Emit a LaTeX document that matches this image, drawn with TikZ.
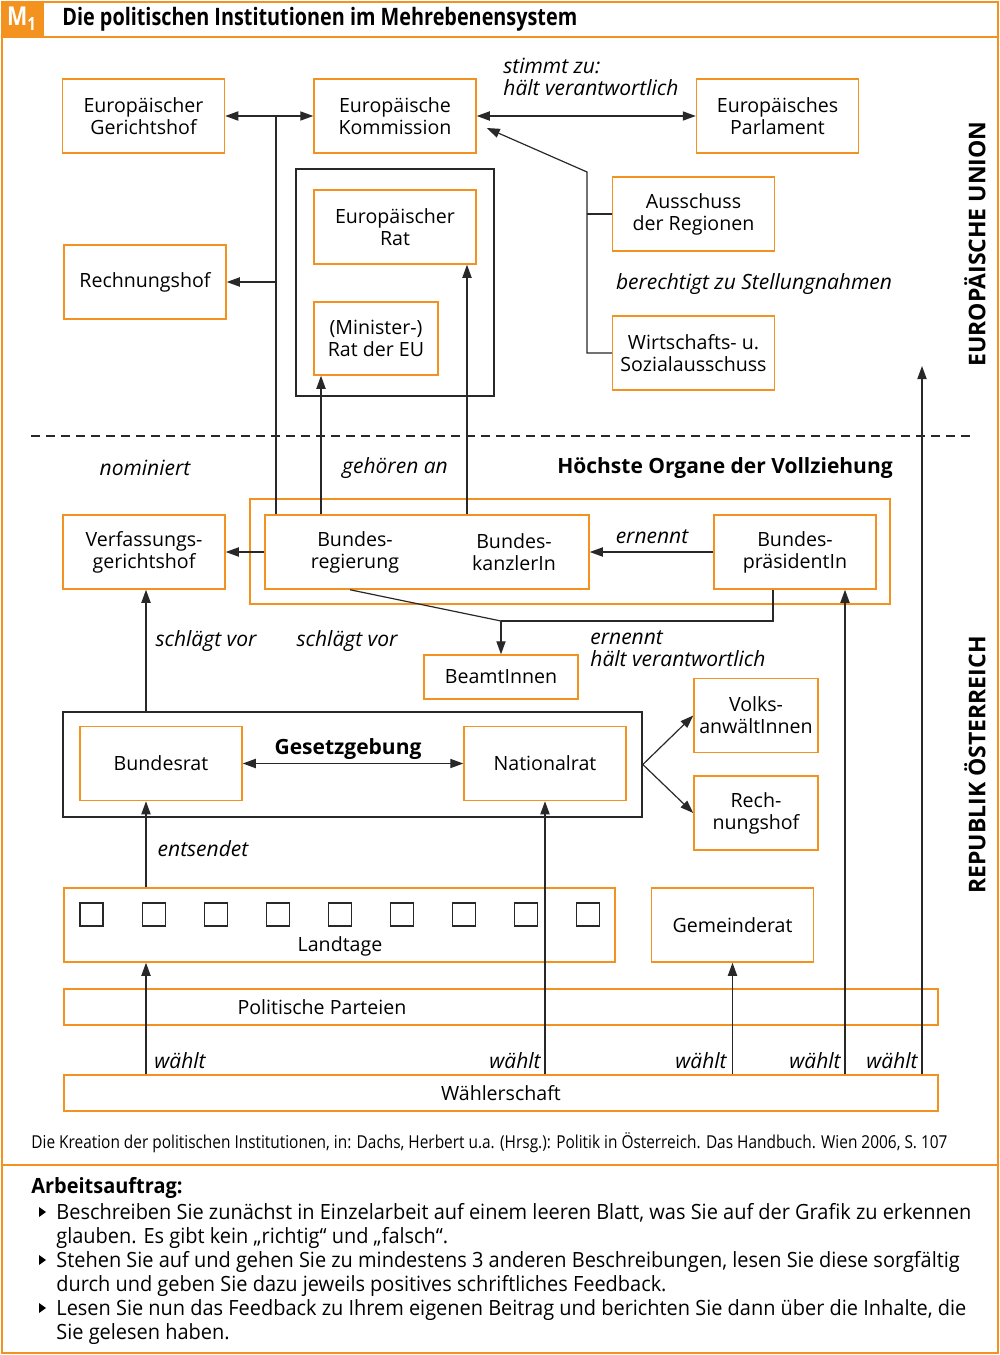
\documentclass[tikz,border=0pt]{standalone}
\usepackage{fontspec}
\setmainfont{Open Sans}
\newfontfamily\condfont[FakeStretch=0.866]{Open Sans}
\newfontfamily\taskfont[FakeStretch=0.95]{Open Sans}
\newfontfamily\titlefont[FakeStretch=0.826]{Open Sans}
\usetikzlibrary{arrows.meta}
\definecolor{og}{RGB}{243,146,30}
\definecolor{dk}{RGB}{40,40,40}
\begin{document}
\begin{tikzpicture}[x=0.5pt,y=-0.5pt,
 ob/.style={draw=og, line width=0.75pt, minimum width=81pt, minimum height=37pt, inner sep=0pt, align=center, font=\fontsize{9.8}{11}\selectfont},
 bb/.style={draw=dk, line width=0.8pt, inner sep=0pt},
 ln/.style={draw=dk, line width=0.6pt},
 arr/.style={ln, -{Triangle[length=6.5pt,width=4.6pt]}},
 arrb/.style={ln, {Triangle[length=6.5pt,width=4.6pt]}-{Triangle[length=6.5pt,width=4.6pt]}},
 lab/.style={font=\fontsize{10.5}{11}\selectfont\itshape, inner sep=0pt},
 txt/.style={font=\fontsize{9.8}{11}\selectfont, inner sep=0pt, align=center},
 sq/.style={draw=dk, line width=0.6pt, minimum size=11.5pt, inner sep=0pt},
 vt/.style={rotate=90, font=\fontsize{11.5}{13}\selectfont\bfseries, inner sep=0pt},
 task/.style={anchor=base west, inner sep=0pt, align=left, font=\taskfont\fontsize{10.5}{12}\selectfont}
]
\useasboundingbox (0,0) rectangle (1000,1355);
% frame
\draw[og, line width=1pt] (2,2) rectangle (998,1353);
\draw[og, line width=1pt] (2,37) -- (998,37);
\draw[og, line width=1pt] (2,1165) -- (998,1165);
\fill[og] (2,2) rectangle (44,37);
\node[text=white, font=\titlefont\bfseries\fontsize{13}{14}\selectfont, inner sep=0pt] (mlogo) at (22,19) {M\textsubscript{1}};
\node[font=\titlefont\bfseries\fontsize{12}{14}\selectfont, anchor=west, inner sep=0pt] (title) at (62,19) {Die politischen Institutionen im Mehrebenensystem};

% EU boxes
\node[ob] (EuGH) at (143.5,116) {Europäischer\\Gerichtshof};
\node[ob] (Komm) at (395,116) {Europäische\\Kommission};
\node[ob] (Parl) at (777.5,116) {Europäisches\\Parlament};
\node[ob] (RH) at (145,282) {Rechnungshof};
\node[bb, minimum width=99pt, minimum height=113.5pt] (RatBox) at (395,282.5) {};
\node[ob] (ERat) at (395,227) {Europäischer\\Rat};
\node[ob, minimum width=62pt, minimum height=36.5pt] (MinRat) at (376,338.5) {(Minister-)\\Rat der EU};
\node[ob] (AdR) at (693.5,214) {Ausschuss\\der Regionen};
\node[ob] (WSA) at (693.5,353) {Wirtschafts- u.\\Sozialausschuss};
\node[lab, anchor=west, align=left] (stimmt) at (503,77) {stimmt zu:\\hält verantwortlich};
\node[lab] (berecht) at (754,284) {berechtigt zu Stellungnahmen};
\node[vt] (euname) at (975,244) {EUROPÄISCHE UNION};

\draw[dk, line width=1pt, dash pattern=on 4.5pt off 3pt] (31,436) -- (970,436);

% Austria
\node[lab] (nomin) at (145,468) {nominiert};
\node[lab] (gehoer) at (395,468) {gehören an};
\node[txt, font=\fontsize{10.5}{12}\selectfont\bfseries] (hoechst) at (725,468) {Höchste Organe der Vollziehung};
\node[draw=og, line width=0.75pt, minimum width=320pt, minimum height=52.5pt, inner sep=0pt] (Voll) at (570,551.5) {};
\node[ob, minimum width=162pt] (BReg) at (427,552) {};
\node[txt] (bregt) at (355,552) {Bundes-\\regierung};
\node[txt] (bkt) at (514,552) {Bundes-\\kanzlerIn};
\node[ob] (BPr) at (795,552) {Bundes-\\präsidentIn};
\node[ob] (VfGH) at (144,552) {Verfassungs-\\gerichtshof};
\node[lab] (ern1) at (652,537) {ernennt};
\node[lab] (sv1) at (206,641) {schlägt vor};
\node[lab] (sv2) at (347,641) {schlägt vor};
\node[lab, anchor=west, align=left] (ern2) at (590,649) {ernennt\\hält verantwortlich};
\node[ob, minimum width=77pt, minimum height=22pt] (Beamt) at (501,677) {BeamtInnen};
\node[bb, minimum width=289.5pt, minimum height=52.5pt] (Gesetz) at (352.5,764.5) {};
\node[ob] (BRat) at (161,763.5) {Bundesrat};
\node[ob] (NRat) at (545,763.5) {Nationalrat};
\node[txt, font=\fontsize{10.5}{12}\selectfont\bfseries] (gesetzt) at (348,749) {Gesetzgebung};
\node[ob, minimum width=62pt] (Volks) at (756,715.5) {Volks-\\anwältInnen};
\node[ob, minimum width=62pt] (RHAT) at (756,813) {Rech-\\nungshof};
\node[lab] (entsend) at (203,849) {entsendet};
\node[ob, minimum width=275.5pt] (LT) at (339.5,925) {};
\foreach \i in {0,...,8} \node[sq] (sq\i) at ({91.5+62.1*\i},914.5) {};
\node[txt] (ltt) at (340,946) {Landtage};
\node[ob] (Gem) at (732.5,925) {Gemeinderat};
\node[ob, minimum width=437pt, minimum height=18pt] (Part) at (501,1007) {};
\node[txt] (partt) at (322,1007) {Politische Parteien};
\node[ob, minimum width=437pt, minimum height=18pt] (Wahl) at (501,1093) {Wählerschaft};
\node[lab, anchor=west] (w1) at (154,1061) {wählt};
\node[lab, anchor=east] (w2) at (541,1061) {wählt};
\node[lab, anchor=east] (w3) at (727,1061) {wählt};
\node[lab, anchor=east] (w4) at (841,1061) {wählt};
\node[lab, anchor=east] (w5) at (918,1061) {wählt};
\node[vt] (atname) at (975,765) {REPUBLIK ÖSTERREICH};

% helper coordinates
\coordinate (c276) at (276,0);
\coordinate (c321) at (321,0);
\coordinate (c467) at (467,0);
\coordinate (c350) at (350,0);
\coordinate (c773) at (773,0);
\coordinate (c146) at (146,0);
\coordinate (c845) at (845,0);
\coordinate (aus) at (587,172);
\coordinate (jn) at (501,621);
\coordinate (eutip) at (922,366);

% connectors
\draw[arrb] (EuGH.east) -- (Komm.west);
\draw[ln] (BReg.north -| c276) -- (EuGH.east -| c276);
\draw[arr] (RH.east -| c276) -- (RH.east);
\draw[arrb] (Komm.east) -- (Parl.west);
\draw[arr] (WSA.west) -| (aus) -- ([xshift=5pt,yshift=-6pt]Komm.east);
\draw[ln] (AdR.west) -- (AdR.west -| aus);
\draw[arr] (BReg.north -| c321) -- (MinRat.south -| c321);
\draw[arr] (BReg.north -| c467) -- (ERat.south -| c467);
\draw[arr] (BReg.west) -- (VfGH.east);
\draw[arr] (BPr.west) -- (BReg.east);
\draw[ln] (BReg.south -| c350) -- (jn);
\draw[ln] (BPr.south -| c773) |- (jn);
\draw[arr] (jn) -- (Beamt.north);
\draw[arr] (Gesetz.north -| c146) -- (VfGH.south -| c146);
\draw[arr] (Gesetz.east) -- (Volks.west);
\draw[arr] (Gesetz.east) -- (RHAT.west);
\draw[arrb] (BRat.east) -- (NRat.west);
\draw[arr] (LT.north -| c146) -- (BRat.south -| c146);
\draw[arr] (Wahl.north -| c146) -- (LT.south -| c146);
\draw[arr] (Wahl.north -| NRat.south) -- (NRat.south);
\draw[arr] (Wahl.north -| Gem.south) -- (Gem.south);
\draw[arr] (Wahl.north -| c845) -- (BPr.south -| c845);
\draw[arr] (Wahl.north -| eutip) -- (eutip);

% source and task
\node[anchor=west, inner sep=0pt, font=\condfont\fontsize{8.9}{10}\selectfont] (src) at (31,1143) {Die Kreation der politischen Institutionen, in: Dachs, Herbert u.a. (Hrsg.): Politik in Österreich. Das Handbuch. Wien 2006, S. 107};
\node[anchor=west, inner sep=0pt, font=\taskfont\bfseries\fontsize{10.5}{12}\selectfont] (auftrag) at (31,1188) {Arbeitsauftrag:};
\foreach \yy in {1212,1260,1308} \fill (39,\yy-5) -- (46,\yy) -- (39,\yy+5) -- cycle;
\node[task] (b1) at (56,1243) {Beschreiben Sie zunächst in Einzelarbeit auf einem leeren Blatt, was Sie auf der Grafik zu erkennen\\glauben. Es gibt kein „richtig“ und „falsch“.};
\node[task] (b2) at (56,1291) {Stehen Sie auf und gehen Sie zu mindestens 3 anderen Beschreibungen, lesen Sie diese sorgfältig\\durch und geben Sie dazu jeweils positives schriftliches Feedback.};
\node[task] (b3) at (56,1339) {Lesen Sie nun das Feedback zu Ihrem eigenen Beitrag und berichten Sie dann über die Inhalte, die\\Sie gelesen haben.};
\end{tikzpicture}
\end{document}
